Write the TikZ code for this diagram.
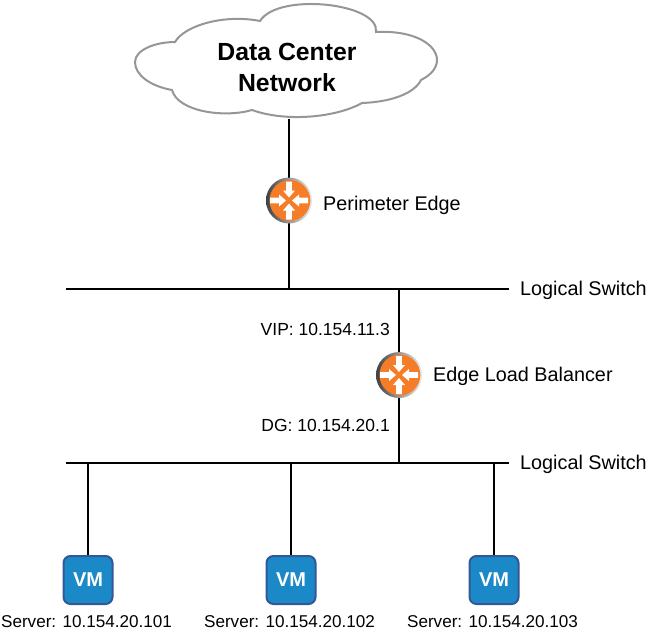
\documentclass[tikz,border=0pt]{standalone}
\usepackage{fontspec}
\setmainfont{Liberation Sans}
\usetikzlibrary{shadings}
\definecolor{edgeorange}{RGB}{246,125,40}
\definecolor{vmblue}{RGB}{27,137,200}
\definecolor{vmborder}{RGB}{50,88,150}
\definecolor{cloudgrey}{RGB}{150,150,150}
\tikzset{
  x=1pt,y=-1pt,
  wire/.style={line width=2pt,black},
  lbl/.style={font=\fontsize{19.8}{22}\selectfont,inner sep=0pt,anchor=west},
  addr/.style={font=\fontsize{17.5}{20}\selectfont,inner sep=0pt,anchor=east},
  srv/.style={font=\fontsize{17.1}{20}\selectfont,inner sep=0pt,anchor=center},
  vmbox/.style={draw=vmborder,line width=2pt,fill=vmblue,rounded corners=7pt,minimum width=49pt,minimum height=48pt,inner sep=0pt,text=white,font=\bfseries\fontsize{20}{22}\selectfont},
  routerdisc/.style={circle,minimum size=46pt,inner sep=0pt},
}
% Router icon: shaded rim, orange disc and four inward-pointing white arrows
\newcommand{\routericon}[3]{%
  \node[routerdisc] (#1) at (#2,#3) {};
  \begin{scope}[shift={(#2,#3)}]
    \shade[left color=black!75,right color=black!8,middle color=black!40] (0,0) circle (23);
    \fill[edgeorange] (0.9,0) circle (20.4);
    \foreach \a in {0,90,180,270}{
      \fill[white,rotate=\a] (3,0) -- (10,-6) -- (10,-2.8) -- (19,-2.8) -- (19,2.8) -- (10,2.8) -- (10,6) -- cycle;
    }
  \end{scope}}
\begin{document}
\begin{tikzpicture}
\useasboundingbox (0,0) rectangle (647,630);
% Cloud outline
\draw[cloudgrey,line width=2pt,fill=white]
  (175,42) .. controls (185,25) and (225,14) .. (260,21)
  .. controls (278,-8) and (380,3) .. (376,32)
  .. controls (415,30) and (437,45) .. (437,60)
  .. controls (437,68) and (431,75) .. (421,80)
  .. controls (414,94) and (390,102) .. (362,103)
  .. controls (335,118) and (285,122) .. (252,110)
  .. controls (225,118) and (178,112) .. (172,90)
  .. controls (150,86) and (135,75) .. (135,62)
  .. controls (135,50) and (155,42) .. (175,42) -- cycle;
\node[font=\bfseries\fontsize{24.8}{31}\selectfont,align=center,inner sep=0pt] (dc) at (287,67) {Data Center\\Network};
\coordinate (cloudfoot) at (289,119);

% Switch rails and the points where links meet them
\coordinate (sw1w) at (66,289);
\coordinate (sw1e) at (509,289);
\coordinate (sw2w) at (66,463);
\coordinate (sw2e) at (509,463);
\coordinate (j1) at (289,289);
\coordinate (j2) at (399,289);
\coordinate (j3) at (399,463);
\coordinate (j4) at (88,463);
\coordinate (j5) at (291,463);
\coordinate (j6) at (494,463);

\draw[wire] (sw1w) -- (sw1e);
\draw[wire] (sw2w) -- (sw2e);

% Links are drawn first so the icons sit over them
\coordinate (pe) at (289,200.5);
\coordinate (lb) at (399,375);
\draw[wire] (cloudfoot) -- (pe) -- (j1);
\draw[wire] (j2) -- (lb) -- (j3);

\routericon{perimeter}{289}{200.5}
\routericon{balancer}{399}{375}

\node[lbl] (pelabel) at (323,205) {Perimeter Edge};
\node[lbl] (lblabel) at (433,376.5) {Edge Load Balancer};
\node[lbl] (sw1label) at (520,290.5) {Logical Switch};
\node[lbl] (sw2label) at (520,464.5) {Logical Switch};
\node[addr] (vip) at (390,329) {VIP: 10.154.11.3};
\node[addr] (dg) at (390,425) {DG: 10.154.20.1};

% Server machines
\node[vmbox] (vm1) at (88,580) {\raisebox{-1.5pt}{VM}};
\node[vmbox] (vm2) at (291,580) {\raisebox{-1.5pt}{VM}};
\node[vmbox] (vm3) at (494,580) {\raisebox{-1.5pt}{VM}};
\draw[wire] (j4) -- (vm1.north);
\draw[wire] (j5) -- (vm2.north);
\draw[wire] (j6) -- (vm3.north);
\node[srv] (s1) at (86.5,622) {Server: 10.154.20.101};
\node[srv] (s2) at (289.5,622) {Server: 10.154.20.102};
\node[srv] (s3) at (492.5,622) {Server: 10.154.20.103};
\end{tikzpicture}
\end{document}
